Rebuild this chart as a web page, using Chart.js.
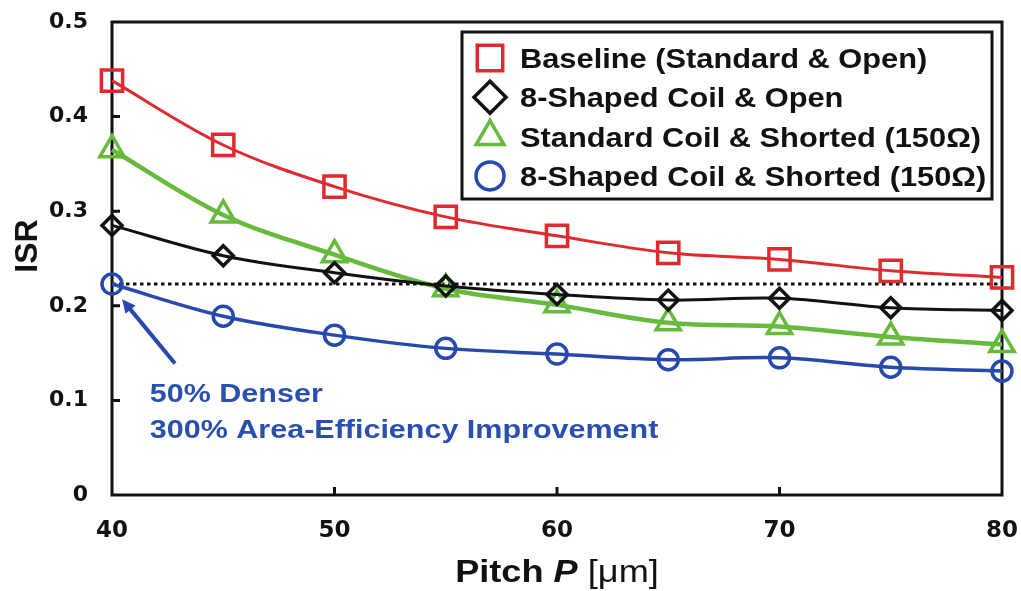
<!DOCTYPE html>
<html>
<head>
<meta charset="utf-8">
<script src="https://cdn.jsdelivr.net/npm/chart.js@4.4.1/dist/chart.umd.min.js"></script>
<style>
  html, body { margin: 0; padding: 0; background: #fff; }
</style>
</head>
<body>
<canvas id="isrChart" width="1021" height="591"></canvas>
<script>
// data
const pitch = [40, 45, 50, 55, 60, 65, 70, 75, 80];
const baselineOpen = [0.438, 0.370, 0.326, 0.294, 0.274, 0.256, 0.249, 0.237, 0.230];
const shapedOpen = [0.285, 0.253, 0.235, 0.221, 0.212, 0.206, 0.208, 0.198, 0.195];
const standardShorted = [0.365, 0.296, 0.254, 0.218, 0.201, 0.182, 0.178, 0.167, 0.159];
const shapedShorted = [0.223, 0.189, 0.169, 0.155, 0.149, 0.143, 0.145, 0.135, 0.131];
const refPitch = [40, 80];
const refLevel = [0.223, 0.223];
const seriesNames = [
  'Baseline (Standard & Open)',
  '8-Shaped Coil & Open',
  'Standard Coil & Shorted (150Ω)',
  '8-Shaped Coil & Shorted (150Ω)'
];
const xTicks = [40, 50, 60, 70, 80];
const yTicks = [0, 0.1, 0.2, 0.3, 0.4, 0.5];
const noteLines = ['50% Denser', '300% Area-Efficiency Improvement'];

const RED = '#df2a30', BLACK = '#111111', GREEN = '#66ba3c', BLUE = '#2649ab';
const FONT = '"Liberation Sans", Arial, sans-serif';
const TICK_FONT = '"DejaVu Sans", sans-serif';

const toXY = (xs, ys) => xs.map((x, i) => ({ x: x, y: ys[i] }));

function series(label, values, color, style, radius, width) {
  return {
    label: label,
    data: toXY(pitch, values),
    borderColor: color,
    backgroundColor: 'rgba(0,0,0,0)',
    borderWidth: width,
    pointStyle: style,
    pointRadius: radius,
    pointBorderWidth: 3.5,
    pointBorderColor: color,
    pointBackgroundColor: 'rgba(0,0,0,0)',
    tension: 0.35,
    clip: false
  };
}

// stretched text, the figure uses a wide bold face
function wideText(ctx, text, x, y, font, color, sx, align) {
  ctx.save();
  ctx.font = font;
  ctx.fillStyle = color;
  ctx.textBaseline = 'alphabetic';
  ctx.translate(x, y);
  ctx.scale(sx, 1);
  const w = ctx.measureText(text).width;
  ctx.fillText(text, align === 'center' ? -w / 2 : 0, 0);
  ctx.restore();
  return w * sx;
}

// keep the plot box where the figure has it
function noOverflow(s) {
  s.paddingLeft = s.paddingRight = s.paddingTop = s.paddingBottom = 0;
}

const framePlugin = {
  id: 'frame',
  beforeDatasetsDraw(chart) {
    const ctx = chart.ctx, a = chart.chartArea;
    const xs = chart.scales.x, ys = chart.scales.y;
    ctx.save();
    ctx.strokeStyle = BLACK;
    ctx.lineWidth = 3;
    ctx.strokeRect(a.left, a.top, a.right - a.left, a.bottom - a.top);
    // inward tick marks
    ctx.beginPath();
    yTicks.slice(1, -1).forEach(v => {
      const py = ys.getPixelForValue(v);
      ctx.moveTo(a.left, py); ctx.lineTo(a.left + 8, py);
    });
    xTicks.slice(1, -1).forEach(v => {
      const px = xs.getPixelForValue(v);
      ctx.moveTo(px, a.bottom); ctx.lineTo(px, a.bottom - 8);
    });
    ctx.stroke();
    ctx.restore();
  },
  afterDraw(chart) {
    const ctx = chart.ctx, a = chart.chartArea;
    const xs = chart.scales.x, ys = chart.scales.y;

    // legend box
    const bx = a.right - 540, by = a.top + 10, bw = 530, bh = 167;
    ctx.save();
    ctx.lineWidth = 3;
    ctx.strokeStyle = BLACK;
    ctx.strokeRect(bx, by, bw, bh);
    const legendRadius = [18, 16, 16, 14];
    chart.data.datasets.slice(0, 4).forEach((ds, i) => {
      const cy = by + 26 + i * 39.3;
      ctx.strokeStyle = ds.borderColor;
      ctx.fillStyle = 'rgba(0,0,0,0)';
      ctx.lineWidth = 3.5;
      Chart.helpers.drawPoint(ctx, { pointStyle: ds.pointStyle, radius: legendRadius[i], borderWidth: 3.5, rotation: 0 }, bx + 28, cy);
      wideText(ctx, ds.label, bx + 58, cy + 10, 'bold 28px ' + FONT, BLACK, 1.1);
    });
    ctx.restore();

    // arrow and note
    const tx = xs.getPixelForValue(42.83), ty = ys.getPixelForValue(0.139);
    const hx = xs.getPixelForValue(40.45), hy = ys.getPixelForValue(0.207);
    const ang = Math.atan2(hy - ty, hx - tx);
    ctx.save();
    ctx.strokeStyle = BLUE;
    ctx.fillStyle = BLUE;
    ctx.lineWidth = 4;
    ctx.beginPath();
    ctx.moveTo(tx, ty);
    ctx.lineTo(hx - Math.cos(ang) * 8, hy - Math.sin(ang) * 8);
    ctx.stroke();
    ctx.beginPath();
    ctx.moveTo(hx, hy);
    ctx.lineTo(hx - Math.cos(ang - 0.45) * 15, hy - Math.sin(ang - 0.45) * 15);
    ctx.lineTo(hx - Math.cos(ang + 0.45) * 15, hy - Math.sin(ang + 0.45) * 15);
    ctx.closePath();
    ctx.fill();
    ctx.restore();
    const nx = xs.getPixelForValue(41.7);
    wideText(ctx, noteLines[0], nx, ys.getPixelForValue(0.0983), 'bold 25px ' + FONT, '#2a4fae', 1.22);
    wideText(ctx, noteLines[1], nx, ys.getPixelForValue(0.060), 'bold 25px ' + FONT, '#2a4fae', 1.22);

    // axis titles
    const midX = (a.left + a.right) / 2;
    ctx.save();
    ctx.font = 'bold 32px ' + FONT;
    const w1 = ctx.measureText('Pitch ').width * 1.13;
    ctx.font = 'bold italic 32px ' + FONT;
    const w2 = ctx.measureText('P').width * 1.13;
    ctx.font = '32px ' + FONT;
    const w3 = ctx.measureText(' [μm]').width * 1.13;
    ctx.restore();
    let x0 = midX - (w1 + w2 + w3) / 2;
    const base = 582;
    x0 += wideText(ctx, 'Pitch ', x0, base, 'bold 32px ' + FONT, BLACK, 1.13);
    x0 += wideText(ctx, 'P', x0, base, 'bold italic 32px ' + FONT, BLACK, 1.13);
    wideText(ctx, ' [μm]', x0, base, '32px ' + FONT, BLACK, 1.13);

    ctx.save();
    ctx.translate(37, 246);
    ctx.rotate(-Math.PI / 2);
    wideText(ctx, 'ISR', 0, 0, 'bold 32px ' + FONT, BLACK, 1.0, 'center');
    ctx.restore();
  }
};

new Chart(document.getElementById('isrChart'), {
  type: 'line',
  data: {
    datasets: [
      series(seriesNames[0], baselineOpen, RED, 'rect', 15, 3),
      series(seriesNames[1], shapedOpen, BLACK, 'rectRot', 10, 3),
      series(seriesNames[2], standardShorted, GREEN, 'triangle', 14, 4.5),
      series(seriesNames[3], shapedShorted, BLUE, 'circle', 10, 3.5),
      {
        label: '',
        data: toXY(refPitch, refLevel),
        borderColor: BLACK,
        borderWidth: 3,
        borderDash: [3.5, 3.5],
        pointRadius: 0,
        tension: 0,
        clip: false
      }
    ]
  },
  options: {
    responsive: false,
    animation: false,
    devicePixelRatio: 1,
    layout: { padding: { top: 22, right: 19, left: 0, bottom: 0 } },
    plugins: { legend: { display: false }, tooltip: { enabled: false } },
    scales: {
      x: {
        type: 'linear',
        min: 40, max: 80,
        afterBuildTicks: s => { s.ticks = xTicks.map(v => ({ value: v })); },
        afterFit: s => { s.height = 96; noOverflow(s); },
        grid: { display: false, drawTicks: false },
        border: { display: false },
        ticks: { color: BLACK, padding: 22, maxRotation: 0, font: { family: TICK_FONT, size: 23, weight: 'bold' } }
      },
      y: {
        min: 0, max: 0.5,
        afterBuildTicks: s => { s.ticks = yTicks.map(v => ({ value: v })); },
        afterFit: s => { s.width = 112; noOverflow(s); },
        grid: { display: false, drawTicks: false },
        border: { display: false },
        ticks: {
          color: BLACK, padding: 24,
          font: { family: TICK_FONT, size: 22, weight: 'bold' },
          callback: v => (v === 0 ? '0' : v.toFixed(1))
        }
      }
    }
  },
  plugins: [framePlugin]
});
</script>
</body>
</html>
